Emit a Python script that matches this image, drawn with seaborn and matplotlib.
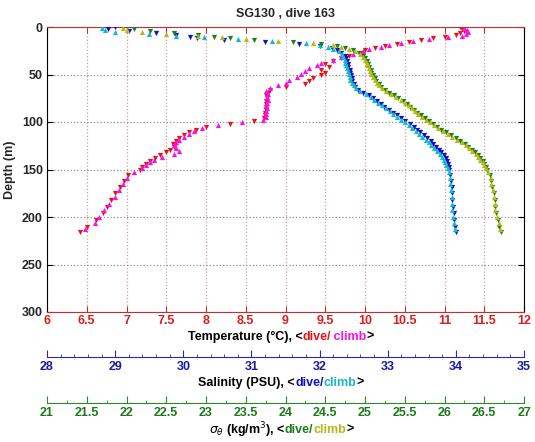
import numpy as np
import pandas as pd
import seaborn as sns
import matplotlib
matplotlib.use("Agg")
import matplotlib.pyplot as plt
from matplotlib.ticker import MultipleLocator

# depths (m)
dive_depth = [0, 2, 4, 6, 8, 10, 12, 14, 16, 18, 20, 22, 24,
              27, 30, 33, 36, 39, 42, 45, 48, 51, 54, 57, 60, 63, 66, 69, 72, 75, 78, 81, 84,
              87, 90, 93, 96, 99, 102, 105, 108, 111, 114, 117, 120, 123, 126, 129, 132, 135,
              138, 141, 144, 147, 150,
              156, 162, 168, 175, 182, 189, 196, 203, 210, 216]
climb_depth = [1, 3, 5, 7, 9, 11, 13, 15, 17, 19, 21, 23,
               25.5, 28.5, 31.5, 34.5, 37.5, 40.5, 43.5, 46.5, 49.5, 52.5, 55.5, 58.5, 61.5,
               64.5, 67.5, 70.5, 73.5, 76.5, 79.5, 82.5, 85.5, 88.5, 91.5, 94.5, 97.5, 100.5,
               103.5, 106.5, 109.5, 112.5, 115.5, 118.5, 121.5, 124.5, 127.5, 130.5, 133.5,
               136.5, 139.5, 142.5, 145.5, 148.5,
               153, 159, 165, 172, 179, 186, 193, 200, 206, 213]

# temperature (C)
temp_dive = [11.2, 11.22, 11.25, 11.2, 11.15, 11.0, 10.85, 10.7, 10.55, 10.4, 10.25, 10.12, 10.0,
             9.95, 9.8, 9.7, 9.6, 9.5, 9.55, 9.45, 9.5, 9.45, 9.35,
             9.3, 9.25, 9.0, 8.8, 8.78, 8.76, 8.77, 8.76, 8.75, 8.76,
             8.75, 8.74, 8.74, 8.73, 8.6, 8.3, 8.0, 7.88, 7.78, 7.72,
             7.66, 7.62, 7.58, 7.6, 7.55, 7.5, 7.42, 7.36, 7.3, 7.25,
             7.2, 7.17,
             7.02, 6.97, 6.92, 6.86, 6.8, 6.75, 6.7, 6.62, 6.5, 6.42]
temp_climb = [11.25, 11.28, 11.3, 11.27, 11.22, 11.05, 10.8, 10.6, 10.45, 10.3, 10.2, 10.05,
              9.98, 9.85, 9.7, 9.6, 9.45, 9.4, 9.3, 9.25, 9.2, 9.15,
              9.05, 9.0, 8.9, 8.8, 8.76, 8.78, 8.77, 8.78, 8.77, 8.76,
              8.77, 8.76, 8.75, 8.76, 8.72, 8.45, 8.15, 7.95, 7.85, 7.78,
              7.72, 7.66, 7.62, 7.6, 7.62, 7.66, 7.6, 7.45, 7.35, 7.3,
              7.25, 7.2,
              7.1, 7.0, 6.95, 6.9, 6.85, 6.78, 6.72, 6.65, 6.6, 6.48]

# salinity (PSU)
sal_dive = [29.0, 28.9, 29.2, 29.6, 29.9, 30.1, 30.2, 30.6, 31.2, 31.7, 32.0, 32.18, 32.25,
            32.32, 32.37, 32.39, 32.4, 32.42, 32.42, 32.44, 32.45, 32.46, 32.47,
            32.48, 32.5, 32.52, 32.56, 32.63, 32.72, 32.79, 32.85, 32.9, 32.95,
            33.02, 33.08, 33.14, 33.2, 33.26, 33.32, 33.38, 33.43, 33.48, 33.53,
            33.58, 33.63, 33.67, 33.71, 33.75, 33.78, 33.82, 33.85, 33.87, 33.89,
            33.9, 33.9,
            33.92, 33.93, 33.94, 33.94, 33.95, 33.96, 33.97, 33.97, 33.99, 34.0]
sal_climb = [28.8, 28.85, 29.0, 29.5, 29.9, 30.3, 30.8, 31.3, 31.8, 32.0, 32.12, 32.2,
             32.28, 32.33, 32.35, 32.37, 32.38, 32.39, 32.4, 32.42, 32.43, 32.44,
             32.45, 32.47, 32.5, 32.54, 32.6, 32.68, 32.75, 32.8, 32.86, 32.91,
             32.97, 33.03, 33.08, 33.14, 33.19, 33.25, 33.31, 33.36, 33.41, 33.46,
             33.51, 33.56, 33.6, 33.64, 33.68, 33.72, 33.76, 33.79, 33.82, 33.84,
             33.86, 33.88,
             33.9, 33.91, 33.92, 33.93, 33.94, 33.94, 33.95, 33.96, 33.97, 33.99]

# sigma-theta (kg/m3)
sig_dive = [22.0, 22.1, 22.3, 22.6, 22.9, 23.1, 23.3, 23.6, 24.1, 24.45, 24.65, 24.75, 24.85,
            24.92, 24.97, 25.0, 25.02, 25.04, 25.05, 25.07, 25.08, 25.1, 25.12,
            25.14, 25.17, 25.2, 25.25, 25.3, 25.36, 25.42, 25.48, 25.53, 25.57,
            25.62, 25.66, 25.7, 25.75, 25.8, 25.85, 25.9, 25.96, 26.02, 26.08,
            26.14, 26.2, 26.26, 26.3, 26.34, 26.38, 26.42, 26.45, 26.48, 26.5,
            26.52, 26.54,
            26.57, 26.59, 26.6, 26.62, 26.63, 26.64, 26.65, 26.67, 26.69, 26.71]
sig_climb = [21.95, 22.0, 22.2, 22.5, 22.9, 23.2, 23.5, 23.9, 24.35, 24.6, 24.7, 24.8,
             24.88, 24.94, 24.98, 25.0, 25.02, 25.03, 25.05, 25.06, 25.08, 25.1,
             25.12, 25.15, 25.18, 25.22, 25.27, 25.33, 25.39, 25.45, 25.5, 25.55,
             25.59, 25.63, 25.67, 25.72, 25.77, 25.82, 25.87, 25.92, 25.98, 26.04,
             26.1, 26.16, 26.22, 26.27, 26.31, 26.35, 26.39, 26.42, 26.45, 26.48,
             26.5, 26.52,
             26.55, 26.58, 26.59, 26.61, 26.62, 26.63, 26.64, 26.66, 26.68, 26.7]

temp_ticks = [6, 6.5, 7, 7.5, 8, 8.5, 9, 9.5, 10, 10.5, 11, 11.5, 12]
sal_ticks = [28, 29, 30, 31, 32, 33, 34, 35]
sig_ticks = [21, 21.5, 22, 22.5, 23, 23.5, 24, 24.5, 25, 25.5, 26, 26.5, 27]
depth_ticks = [0, 50, 100, 150, 200, 250, 300]

sns.set_style("white")
plt.rcParams["font.family"] = ["Liberation Sans", "DejaVu Sans"]
plt.rcParams["mathtext.fontset"] = "dejavusans"

W, H = 535, 442
fig = plt.figure(figsize=(W / 100, H / 100), dpi=100)
ax = fig.add_axes([47 / W, 1 - 312 / H, 477 / W, 285 / H])
ax_s = ax.twiny()
ax_d = ax.twiny()

c_tdive, c_tclimb = "#e8141c", "#f414e8"
c_sdive, c_sclimb = "#1010c8", "#18b8c4"
c_ddive, c_dclimb = "#1e7d1e", "#b8b818"
c_tlab, c_slab, c_dlab = "#d81e1e", "#1a1aa0", "#1a7a1a"

ms = 14
sns.scatterplot(x=temp_dive, y=dive_depth, ax=ax, marker="v", color=c_tdive, s=ms, linewidth=0)
sns.scatterplot(x=temp_climb, y=climb_depth, ax=ax, marker="^", color=c_tclimb, s=ms, linewidth=0)
sns.scatterplot(x=sal_dive, y=dive_depth, ax=ax_s, marker="v", color=c_sdive, s=ms, linewidth=0)
sns.scatterplot(x=sal_climb, y=climb_depth, ax=ax_s, marker="^", color=c_sclimb, s=ms, linewidth=0)
sns.scatterplot(x=sig_dive, y=dive_depth, ax=ax_d, marker="v", color=c_ddive, s=ms, linewidth=0)
sns.scatterplot(x=sig_climb, y=climb_depth, ax=ax_d, marker="^", color=c_dclimb, s=ms, linewidth=0)

tick_font = dict(fontsize=9, fontweight="bold")

# main (temperature / depth) axes
ax.set_xlim(6, 12)
ax.set_ylim(300, 0)
ax.set_xticks(temp_ticks)
ax.set_xticklabels([f"{t:g}" for t in temp_ticks], color=c_tlab, **tick_font)
ax.set_yticks(depth_ticks)
ax.set_yticklabels([str(d) for d in depth_ticks], **tick_font)
ax.tick_params(axis="x", direction="in", top=True, bottom=True, length=4, color="#c03030", pad=2)
ax.tick_params(axis="y", direction="in", left=True, right=True, length=4, color="black", pad=3)
ax.xaxis.grid(True, color="#c8a0a0", linestyle=":", linewidth=0.9)
ax.yaxis.grid(True, color="#909090", linestyle=":", linewidth=0.9)
for side, col in [("top", "#c03030"), ("bottom", "#c03030"), ("left", "black"), ("right", "black")]:
    ax.spines[side].set_color(col)
    ax.spines[side].set_linewidth(0.8)
ax.set_xlabel("")
ax.set_ylabel("Depth (m)", fontsize=9, fontweight="bold", labelpad=4)
ax.set_title("SG130 , dive 163", fontsize=9, fontweight="bold", pad=7)

# salinity and sigma scales below
for tw, lo, hi, ticks, minor, col, spcol, off in [
        (ax_s, 28, 35, sal_ticks, 0.2, c_slab, "#2a2aa8", -0.158),
        (ax_d, 21, 27, sig_ticks, 0.25, c_dlab, "#2a8a2a", -0.319)]:
    tw.set_xlim(lo, hi)
    tw.set_xlabel("")
    tw.xaxis.set_ticks_position("bottom")
    tw.spines["bottom"].set_position(("axes", off))
    tw.spines["bottom"].set_color(spcol)
    tw.spines["bottom"].set_linewidth(0.8)
    for side in ["top", "left", "right"]:
        tw.spines[side].set_visible(False)
    tw.set_xticks(ticks)
    tw.set_xticklabels([f"{t:g}" for t in ticks], color=col, **tick_font)
    tw.xaxis.set_minor_locator(MultipleLocator(minor))
    tw.tick_params(axis="x", which="major", direction="in", length=5, color=spcol, pad=3)
    tw.tick_params(axis="x", which="minor", direction="in", length=2.5, color=spcol)
    tw.grid(False)

# restore ticks on top of main axes (twiny moves them)
ax.tick_params(axis="x", top=True, bottom=True, labeltop=False, labelbottom=True)


def color_label(y_px, parts, cx_px=281):
    renderer = fig.canvas.get_renderer()
    texts = [fig.text(0, 1 - y_px / H, s, color=c, fontsize=9, fontweight="bold", va="center")
             for s, c in parts]
    widths = [t.get_window_extent(renderer).width for t in texts]
    x = cx_px - sum(widths) / 2
    for t, w in zip(texts, widths):
        t.set_x(x / W)
        x += w


color_label(337, [("Temperature (°C), <", "black"), ("dive/", c_tdive),
                  ("\u2009climb", c_tclimb), (">", "black")])
color_label(383, [("Salinity (PSU), <", "black"), ("dive/", c_sdive),
                  ("climb", c_sclimb), (">", "black")])
color_label(430, [(r"$\sigma_\theta$ (kg/m$^3$), <", "black"),
                  ("dive/", c_ddive), ("climb", c_dclimb), (">", "black")])

fig.savefig("out.png", dpi=100)
